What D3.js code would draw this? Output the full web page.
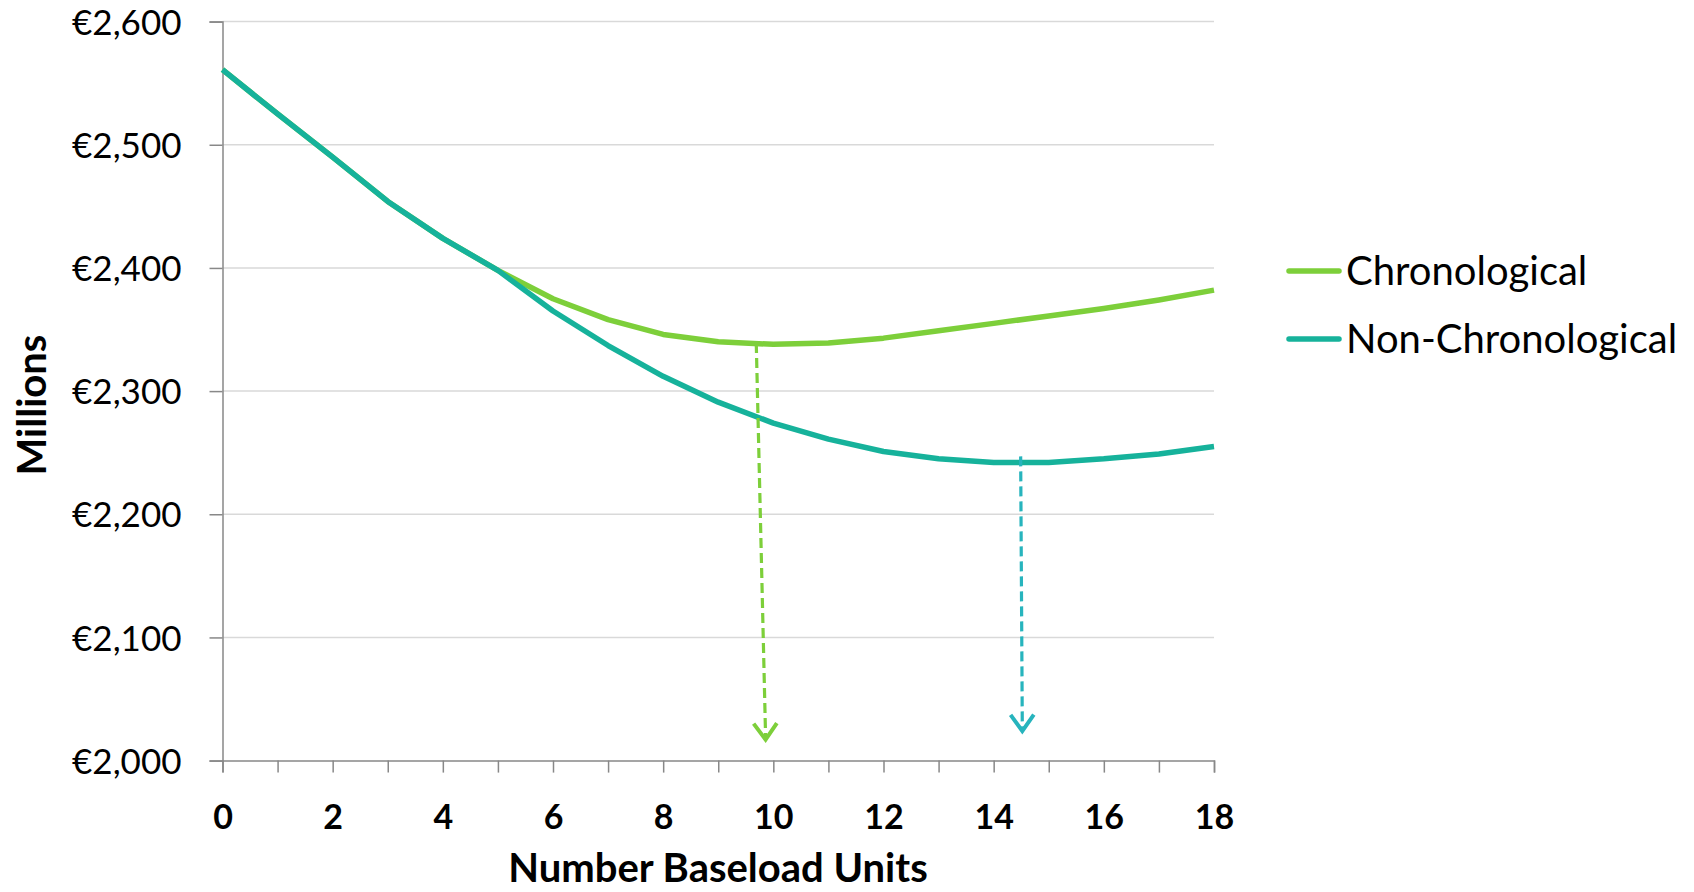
<!DOCTYPE html>
<html>
<head>
<meta charset="utf-8">
<script src="https://cdn.jsdelivr.net/npm/d3@7"></script>
<style>
  html, body { margin: 0; padding: 0; background: #fff; }
  svg { display: block; }
  text { font-family: "Lato", "Open Sans", sans-serif; fill: #000; }
</style>
</head>
<body>
<svg id="chart" width="1694" height="892"></svg>
<script>
// ---- data ----
const units = [0,1,2,3,4,5,6,7,8,9,10,11,12,13,14,15,16,17,18];
const chronological    = [2561,2525,2490,2454,2424,2398,2375,2358,2346,2340,2338,2339,2343,2349,2355,2361,2367,2374,2382];
const nonChronological = [2561,2525,2490,2454,2424,2398,2365,2337,2312,2291,2274,2261,2251,2245,2242,2242,2245,2249,2255];
const seriesNames = ["Chronological", "Non-Chronological"];
const seriesColors = ["#7dcf3a", "#16b29b"];
const arrowColors = ["#7dcf3a", "#27b4bd"];
const yTicks = [2000,2100,2200,2300,2400,2500,2600];
const xTicks = [0,2,4,6,8,10,12,14,16,18];
// optimum arrows: [x0, y0, x1, y1] in data units
const arrowChron = [9.69, 2339, 9.86, 2017];
const arrowNonChron = [14.49, 2247, 14.52, 2024];
const xTitle = "Number Baseload Units";
const yTitle = "Millions";

// ---- layout ----
const mLeft = 222.5, mRight = 1214, mTop = 21.6, mBottom = 760.6;
const svg = d3.select("#chart");
const x = d3.scaleLinear().domain([0, 18]).range([mLeft, mRight]);
const y = d3.scaleLinear().domain([2000, 2600]).range([mBottom, mTop]);

// gridlines
svg.append("g").selectAll("line").data(yTicks.filter(d => d !== 2000)).join("line")
  .attr("x1", mLeft).attr("x2", mRight)
  .attr("y1", d => y(d)).attr("y2", d => y(d))
  .attr("stroke", "#d9d9d9").attr("stroke-width", 1.5);

// y axis
const yAxis = svg.append("g").attr("transform", `translate(${mLeft},0)`)
  .call(d3.axisLeft(y).tickValues(yTicks).tickSize(13).tickPadding(28)
    .tickFormat(d => "€" + d3.format(",")(d)));
yAxis.select(".domain").attr("stroke", "#888").attr("stroke-width", 1.5);
yAxis.selectAll(".tick line").attr("stroke", "#888").attr("stroke-width", 1.5);
yAxis.selectAll(".tick text").style("font-size", "35px").attr("dy", "0.36em").attr("fill", "#000");

// x axis
const xAxis = svg.append("g").attr("transform", `translate(0,${mBottom})`)
  .call(d3.axisBottom(x).tickValues(units).tickSize(12).tickPadding(32)
    .tickFormat(d => xTicks.includes(d) ? d : ""));
xAxis.select(".domain").attr("stroke", "#888").attr("stroke-width", 1.5);
xAxis.selectAll(".tick line").attr("stroke", "#888").attr("stroke-width", 1.5);
xAxis.selectAll(".tick text").style("font-size", "34px").style("font-weight", "bold").attr("fill", "#000");

// lines
const line = d3.line().x((d, i) => x(units[i])).y(d => y(d));
[chronological, nonChronological].forEach((s, i) => {
  svg.append("path").datum(s)
    .attr("d", line)
    .attr("fill", "none")
    .attr("stroke", seriesColors[i])
    .attr("stroke-width", 5.5)
    .attr("stroke-linejoin", "round");
});

// arrows
function drawArrow(a, color) {
  const x0 = x(a[0]), y0 = y(a[1]), x1 = x(a[2]), y1 = y(a[3]);
  svg.append("line")
    .attr("x1", x0).attr("y1", y0).attr("x2", x1).attr("y2", y1 - 2)
    .attr("stroke", color).attr("stroke-width", 3.2)
    .attr("stroke-dasharray", "10,5");
  const ang = Math.atan2(y1 - y0, x1 - x0);
  const len = 20, spread = 0.62;
  const p1 = [x1 - len * Math.cos(ang - spread), y1 - len * Math.sin(ang - spread)];
  const p2 = [x1 - len * Math.cos(ang + spread), y1 - len * Math.sin(ang + spread)];
  svg.append("path")
    .attr("d", `M${p1[0]},${p1[1]}L${x1},${y1}L${p2[0]},${p2[1]}`)
    .attr("fill", "none").attr("stroke", color).attr("stroke-width", 4);
}
drawArrow(arrowChron, arrowColors[0]);
drawArrow(arrowNonChron, arrowColors[1]);

// legend
const legY = [271, 339];
seriesNames.forEach((n, i) => {
  svg.append("line").attr("x1", 1289).attr("x2", 1339)
    .attr("y1", legY[i]).attr("y2", legY[i])
    .attr("stroke", seriesColors[i]).attr("stroke-width", 5.5).attr("stroke-linecap", "round");
  svg.append("text").attr("x", 1346).attr("y", legY[i]).attr("dy", "0.35em")
    .style("font-size", "40px").text(n);
});

// titles
svg.append("text").attr("x", 718).attr("y", 882)
  .attr("text-anchor", "middle").style("font-size", "40px").style("font-weight", "bold")
  .text(xTitle);
svg.append("text").attr("transform", `translate(46,405) rotate(-90)`)
  .attr("text-anchor", "middle").style("font-size", "40px").style("font-weight", "bold")
  .text(yTitle);
</script>
</body>
</html>
